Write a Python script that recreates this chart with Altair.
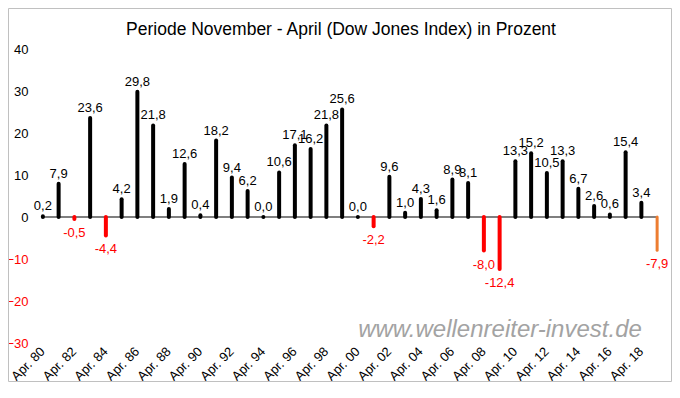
import altair as alt
import pandas as pd

years = list(range(1980, 2020))
values = [0.2, 7.9, -0.5, 23.6, -4.4, 4.2, 29.8, 21.8, 1.9, 12.6,
          0.4, 18.2, 9.4, 6.2, 0.0, 10.6, 17.1, 16.2, 21.8, 25.6,
          0.0, -2.2, 9.6, 1.0, 4.3, 1.6, 8.9, 8.1, -8.0, -12.4,
          13.3, 15.2, 10.5, 13.3, 6.7, 2.6, 0.6, 15.4, 3.4, -7.9]
# last value is the current (open) period -> orange
status = ["done"] * 39 + ["current"]
title_text = "Periode November - April (Dow Jones Index) in Prozent"
watermark_text = "www.wellenreiter-invest.de"

FONT = "Liberation Sans"

year_labels = [str(y) for y in years]
df = pd.DataFrame({
    "year": year_labels,
    "value": values,
    "status": status,
})
df["label"] = df["value"].map(lambda v: f"{v:.1f}".replace(".", ","))
df["kind"] = [
    "current" if s == "current" else ("neg" if v < 0 else "pos")
    for v, s in zip(df["value"], df["status"])
]
df["zero"] = 0.0

x_scale = alt.Scale(domain=year_labels, paddingInner=0, paddingOuter=0)
y_scale = alt.Scale(domain=[-30, 40], nice=False, zero=False)
color_scale = alt.Scale(domain=["pos", "neg", "current"],
                        range=["#000000", "#FF0000", "#ED7D31"])

x_axis = alt.Axis(
    title=None,
    labelExpr="(toNumber(datum.value) % 2 == 0) ? 'Apr. ' + substring(datum.value, 2, 4) : ''",
    labelAngle=-45,
    labelAlign="right",
    labelBaseline="middle",
    labelPadding=6,
    labelFont=FONT,
    labelFontSize=13,
    labelColor="black",
    domain=False,
    ticks=False,
    grid=False,
    labelOverlap=False,
)
y_axis = alt.Axis(
    title=None,
    values=[-30, -20, -10, 0, 10, 20, 30, 40],
    labelFont=FONT,
    labelFontSize=13,
    labelColor={"condition": {"test": "datum.value < 0", "value": "#FF0000"}, "value": "black"},
    labelPadding=7,
    domain=False,
    ticks=False,
    grid=False,
)

base = alt.Chart(df)

bars = base.mark_rule(strokeCap="round").encode(
    x=alt.X("year:N", scale=x_scale, axis=x_axis),
    y=alt.Y("value:Q", scale=y_scale, axis=y_axis),
    y2="zero:Q",
    color=alt.Color("kind:N", scale=color_scale, legend=None),
    strokeWidth=alt.condition("datum.kind == 'current'", alt.value(3), alt.value(4)),
)

zero_line = alt.Chart(pd.DataFrame({
    "a": [year_labels[0]], "b": [year_labels[-1]], "z": [0.0]
})).mark_rule(color="black", strokeWidth=1.2).encode(
    x=alt.X("a:N", scale=x_scale),
    x2="b:N",
    y=alt.Y("z:Q", scale=y_scale),
)

labels_pos = base.transform_filter("datum.value >= 0").mark_text(
    font=FONT, fontSize=13, baseline="alphabetic", dy=-6, color="black"
).encode(
    x=alt.X("year:N", scale=x_scale),
    y=alt.Y("value:Q", scale=y_scale),
    text="label:N",
)

labels_neg = base.transform_filter("datum.value < 0").mark_text(
    font=FONT, fontSize=13, baseline="top", dy=8, color="#FF0000"
).encode(
    x=alt.X("year:N", scale=x_scale),
    y=alt.Y("value:Q", scale=y_scale),
    text="label:N",
)

watermark = alt.Chart(pd.DataFrame({"t": [watermark_text]})).mark_text(
    font=FONT, fontSize=24, fontStyle="italic", color="#A3A3A3",
    align="center", baseline="alphabetic",
).encode(
    x=alt.value(465), y=alt.value(288), text="t:N"
)

title = alt.Chart(pd.DataFrame({"t": [title_text]})).mark_text(
    font=FONT, fontSize=17.5, color="black", align="center", baseline="alphabetic",
).encode(
    x=alt.value(306), y=alt.value(-14), text="t:N"
)

frame = alt.Chart(pd.DataFrame({"d": [0]})).mark_rect(
    fillOpacity=0, stroke="#C0C0C0", strokeWidth=1
).encode(
    x=alt.value(-26.5), x2=alt.value(636.5), y=alt.value(-40.5), y2=alt.value(332.5)
)

chart = alt.layer(
    frame, zero_line, bars, labels_pos, labels_neg, watermark, title
).properties(
    width=630,
    height=294,
    autosize=alt.AutoSizeParams(type="none"),
    padding={"left": 27, "top": 41, "right": 7, "bottom": 40},
    background="white",
).configure_view(stroke=None)

chart.save("out.html", embed_options={"renderer": "svg", "actions": False})
